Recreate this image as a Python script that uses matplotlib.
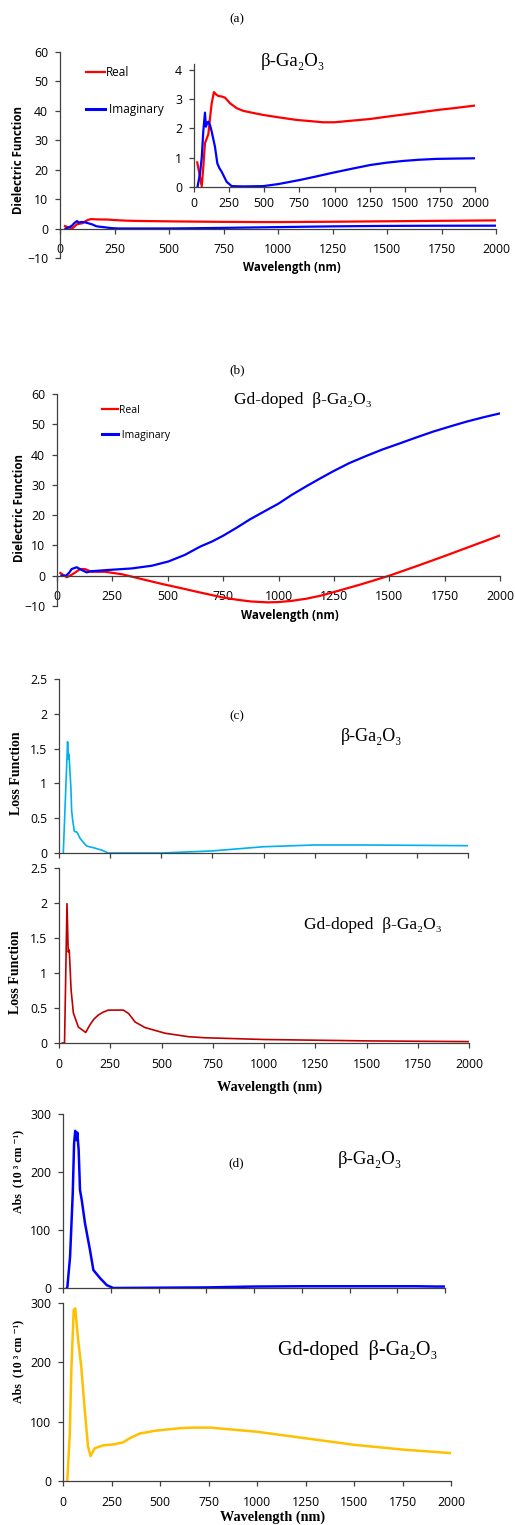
import matplotlib
matplotlib.use("Agg")
import matplotlib.pyplot as plt
from matplotlib.lines import Line2D

W, H = 515, 1525

# (a) beta-Ga2O3 dielectric function
wl_a_real = [23, 40, 55, 65, 78, 90, 102, 115, 126, 142, 160, 173, 197, 221, 256, 304, 351, 420, 493,
             600, 731, 850, 920, 1000, 1134, 1250, 1371, 1500, 1609, 1750, 1845, 2000]
eps_a_real = [0.84, 0.4, 0.03, 0.6, 1.5, 1.65, 1.8, 2.4, 2.86, 3.24, 3.15, 3.11, 3.09, 3.05, 2.86, 2.69,
              2.6, 2.53, 2.46, 2.38, 2.29, 2.24, 2.21, 2.21, 2.27, 2.32, 2.40, 2.48, 2.55, 2.64, 2.69, 2.78]
wl_a_imag = [25, 43, 55, 66, 78, 85, 95, 102, 115, 126, 149, 166, 180, 197, 232, 268, 350, 493, 600,
             754, 870, 991, 1120, 1253, 1370, 1490, 1600, 1727, 1850, 2000]
eps_a_imag = [0, 0.47, 1.0, 1.89, 2.54, 2.06, 2.2, 2.23, 2.1, 1.89, 1.38, 0.81, 0.65, 0.52, 0.18, 0.03,
              0.02, 0.03, 0.1, 0.24, 0.36, 0.49, 0.62, 0.75, 0.83, 0.89, 0.93, 0.96, 0.97, 0.98]

# (b) Gd-doped dielectric function
wl_b_real = [15, 44, 66, 85, 104, 126, 157, 217, 292, 382, 473, 578, 625, 700, 750, 820, 875, 950,
             1000, 1060, 1125, 1190, 1250, 1375, 1500, 1625, 1750, 1875, 2000]
eps_b_real = [0.9, -0.5, 0.3, 1.2, 2.2, 2.2, 1.3, 1.3, 0.5, -1.1, -2.7, -4.4, -5.2, -6.4, -7.2, -8.0,
              -8.5, -8.8, -8.7, -8.3, -7.6, -6.6, -5.4, -2.8, 0, 3.2, 6.5, 9.9, 13.3]
wl_b_imag = [20, 40, 55, 66, 89, 111, 134, 157, 232, 337, 428, 503, 578, 646, 700, 750, 810, 871, 935,
             1000, 1060, 1125, 1190, 1250, 1320, 1398, 1470, 1548, 1620, 1699, 1780, 1850, 1930, 2000]
eps_b_imag = [0, 0, 1.0, 2.2, 2.8, 1.9, 1.1, 1.5, 1.9, 2.4, 3.3, 4.7, 6.9, 9.6, 11.3, 13.2, 15.8, 18.6,
              21.2, 23.8, 26.7, 29.5, 32.2, 34.6, 37.2, 39.6, 41.7, 43.7, 45.6, 47.6, 49.4, 50.9, 52.4,
              53.6]

# (c) loss function
wl_c_pure = [21, 42, 46, 49, 53, 58, 62, 67, 75, 88, 103, 120, 135, 176, 210, 241, 300, 500, 750,
             1000, 1250, 1500, 1750, 2000]
loss_c_pure = [0, 1.6, 1.35, 1.42, 1.2, 0.95, 0.6, 0.47, 0.31, 0.3, 0.21, 0.15, 0.1, 0.07, 0.04, 0.0,
               0.0, 0.0, 0.03, 0.09, 0.115, 0.115, 0.11, 0.105]
wl_c_gd = [16, 27, 39, 45, 50, 59, 70, 94, 130, 151, 170, 192, 215, 241, 314, 340, 371, 420, 517, 631,
           712, 1000, 1250, 1500, 1750, 2000]
loss_c_gd = [0, 0, 1.99, 1.3, 1.33, 0.76, 0.43, 0.23, 0.15, 0.26, 0.34, 0.4, 0.44, 0.47, 0.47, 0.42,
             0.3, 0.22, 0.14, 0.09, 0.075, 0.05, 0.04, 0.03, 0.025, 0.02]

# (d) absorption
wl_d_pure = [20, 23, 37, 51, 58, 64, 70, 75, 82, 89, 98, 115, 141, 159, 194, 229, 263, 500, 750,
             1000, 1250, 1500, 1750, 1850, 1950, 2000]
abs_d_pure = [0, 2, 54, 163, 249, 271, 255, 268, 238, 169, 152, 112, 66, 31, 17, 5, 0, 0.5, 1, 2.5,
              3, 3, 3, 3, 2.5, 2.5]
wl_d_gd = [22, 35, 43, 55, 63, 78, 94, 112, 129, 142, 163, 206, 266, 309, 344, 395, 481, 603, 672,
           758, 1000, 1250, 1500, 1750, 2000]
abs_d_gd = [0, 80, 187, 288, 291, 238, 193, 120, 58, 42, 55, 60, 62, 65, 72, 80, 85, 89, 90, 90, 83,
            72, 61, 53, 47]

x_ticks = [0, 250, 500, 750, 1000, 1250, 1500, 1750, 2000]

SANS = ["Open Sans", "DejaVu Sans"]
SERIF = ["Liberation Serif", "DejaVu Serif"]
AXC = "#404040"
TICK_FS = 8.8

plt.rcParams["font.family"] = SANS
plt.rcParams["font.size"] = 8


def add_ax(fig, left, top, right, bottom):
    return fig.add_axes([left / W, 1 - bottom / H, (right - left) / W, (bottom - top) / H])


def style(ax, xlim, ylim, yticks, ylabels=None, xlabels=True, xpad=7, zero_axis=False):
    ax.set_xlim(*xlim)
    ax.set_ylim(*ylim)
    for s in ["top", "right"]:
        ax.spines[s].set_visible(False)
    for s in ["left", "bottom"]:
        ax.spines[s].set_color(AXC)
        ax.spines[s].set_linewidth(0.9)
    if zero_axis:
        ax.spines["bottom"].set_position(("data", 0))
    ax.set_xticks(x_ticks)
    ax.set_yticks(yticks)
    if ylabels is not None:
        ax.set_yticklabels(ylabels)
    if not xlabels:
        ax.set_xticklabels([])
    ax.tick_params(axis="x", direction="out", length=3.5, width=0.9, color=AXC, pad=xpad,
                   labelsize=TICK_FS, labelcolor="black")
    ax.tick_params(axis="y", direction="out", length=3.5, width=0.9, color=AXC, pad=5,
                   labelsize=TICK_FS, labelcolor="black")
    ax.patch.set_alpha(0)


def ftext(x, y, s, **kw):
    fig.text(x / W, 1 - y / H, s, ha="center", va="center", **kw)


fig = plt.figure(figsize=(W / 100, H / 100), dpi=100)

# (a)
ax = add_ax(fig, 60, 52, 496, 258)
style(ax, (0, 2000), (-10, 60), range(-10, 61, 10), zero_axis=True)
ax.plot(wl_a_real, eps_a_real, color="#FF0000", lw=1.6)
ax.plot(wl_a_imag, eps_a_imag, color="#0000FF", lw=1.6)
handles = [Line2D([], [], color="#FF0000", lw=1.6), Line2D([], [], color="#0000FF", lw=2.2)]
fig.legend(handles, ["Real", " Imaginary"], loc="upper left", bbox_to_anchor=(86 / W, 1 - 66 / H),
           frameon=False, fontsize=8.5, handlelength=1.6, handletextpad=0.1, labelspacing=2.05,
           borderpad=0, borderaxespad=0)

ins = add_ax(fig, 194, 64, 475, 187)
style(ins, (0, 2000), (0, 4.2), range(0, 5), xpad=4)
ins.plot(wl_a_real, eps_a_real, color="#FF0000", lw=1.6)
ins.plot(wl_a_imag, eps_a_imag, color="#0000FF", lw=1.6)

ftext(237, 19, "(a)", family=SERIF, fontsize=9.5)
ftext(293, 62, "β-Ga₂O₃", family=SERIF, fontsize=13.5)
ftext(19, 160, "Dielectric Function", fontsize=8.3, fontweight="bold", rotation=90)
ftext(292, 267, "Wavelength (nm)", fontsize=8.3, fontweight="bold")

# (b)
ax = add_ax(fig, 57, 394, 500, 606)
style(ax, (0, 2000), (-10, 60), range(-10, 61, 10), zero_axis=True)
ax.plot(wl_b_real, eps_b_real, color="#FF0000", lw=1.6)
ax.plot(wl_b_imag, eps_b_imag, color="#0000FF", lw=1.6)
handles = [Line2D([], [], color="#FF0000", lw=1.6), Line2D([], [], color="#0000FF", lw=2.2)]
fig.legend(handles, ["Real", " Imaginary"], loc="upper left", bbox_to_anchor=(102 / W, 1 - 405 / H),
           frameon=False, fontsize=7.5, handlelength=1.5, handletextpad=0.1, labelspacing=1.3,
           borderpad=0, borderaxespad=0)

ftext(237, 370, "(b)", family=SERIF, fontsize=9.5)
ftext(303, 400, "Gd-doped  β-Ga₂O₃", family=SERIF, fontsize=12.5)
ftext(20, 508, "Dielectric Function", fontsize=8.3, fontweight="bold", rotation=90)
ftext(290, 615, "Wavelength (nm)", fontsize=8.3, fontweight="bold")

# (c)
loss_ticks = [0, 0.5, 1, 1.5, 2, 2.5]
loss_labels = ["0", "0.5", "1", "1.5", "2", "2.5"]
ax = add_ax(fig, 59, 679, 468, 853)
style(ax, (0, 2000), (0, 2.5), loss_ticks, loss_labels, xlabels=False)
ax.plot(wl_c_pure, loss_c_pure, color="#00B0F0", lw=1.2)
ax = add_ax(fig, 59, 868, 469, 1043)
style(ax, (0, 2000), (0, 2.5), loss_ticks, loss_labels)
ax.plot(wl_c_gd, loss_c_gd, color="#C00000", lw=1.2)

ftext(237, 716, "(c)", family=SERIF, fontsize=9.5)
ftext(372, 737, "β-Ga₂O₃", family=SERIF, fontsize=13)
ftext(373, 925, "Gd-doped  β-Ga₂O₃", family=SERIF, fontsize=12.5)
ftext(17, 773, "Loss Function", family=SERIF, fontsize=10, fontweight="bold", rotation=90)
ftext(16, 972, "Loss Function", family=SERIF, fontsize=10, fontweight="bold", rotation=90)
ftext(270, 1087, "Wavelength (nm)", family=SERIF, fontsize=10.3, fontweight="bold")

# (d)
abs_ticks = [0, 100, 200, 300]
ax = add_ax(fig, 63, 1114, 445, 1288)
style(ax, (0, 2000), (0, 300), abs_ticks, xlabels=False)
ax.plot(wl_d_pure, abs_d_pure, color="#0000FF", lw=1.8)
ax = add_ax(fig, 63, 1303, 451, 1481)
style(ax, (0, 2000), (0, 300), abs_ticks)
ax.plot(wl_d_gd, abs_d_gd, color="#FFC000", lw=1.8)

ftext(236, 1163, "(d)", family=SERIF, fontsize=9.5)
ftext(370, 1159, "β-Ga₂O₃", family=SERIF, fontsize=13.5)
ftext(358, 1350, "Gd-doped  β-Ga₂O₃", family=SERIF, fontsize=14.5)
ftext(18, 1171, "Abs  (10 ³ cm ⁻¹)", family=SERIF, fontsize=8.6, fontweight="bold", rotation=90)
ftext(18, 1361, "Abs  (10 ³ cm ⁻¹)", family=SERIF, fontsize=8.6, fontweight="bold", rotation=90)
ftext(273, 1517, "Wavelength (nm)", family=SERIF, fontsize=10.3, fontweight="bold")

fig.savefig("out.png", dpi=100)
